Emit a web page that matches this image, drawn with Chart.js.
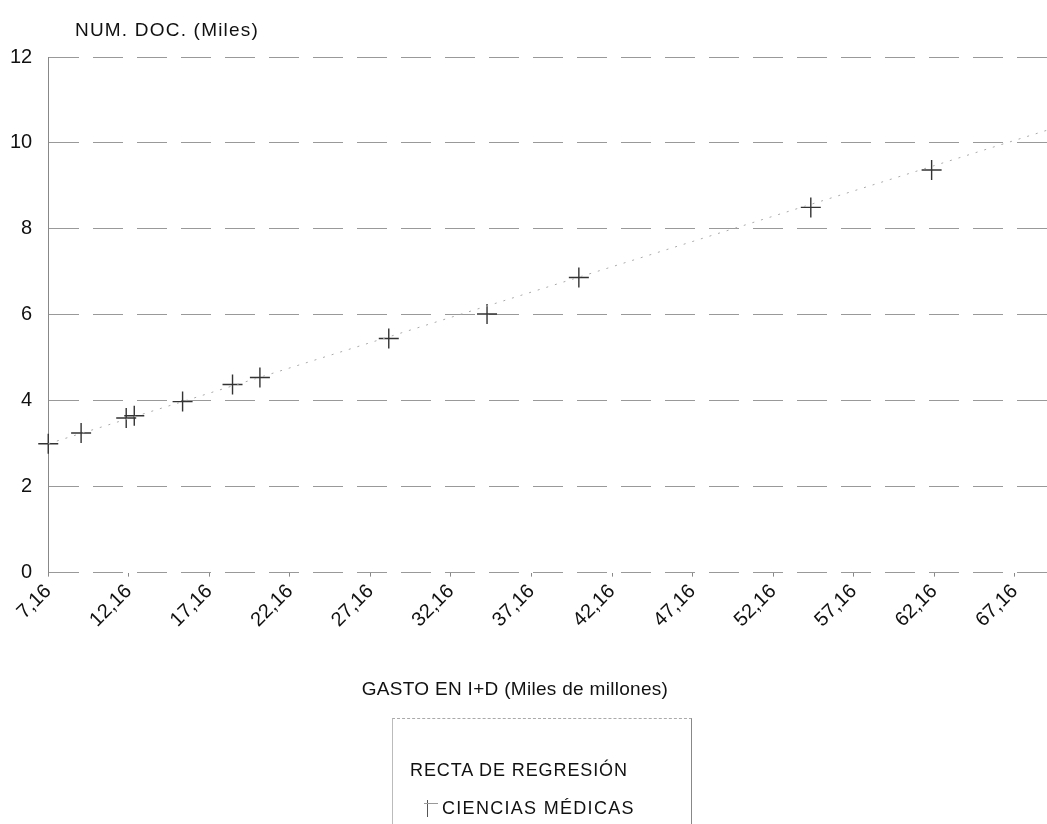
<!DOCTYPE html>
<html>
<head>
<meta charset="utf-8">
<script src="https://cdn.jsdelivr.net/npm/chart.js@4.4.1/dist/chart.umd.min.js"></script>
<style>
  body { margin: 0; background: #fff; font-family: "Liberation Sans", Arial, sans-serif; }
  .wrap { position: relative; width: 1047px; height: 824px; overflow: hidden; }
  #chart { position: absolute; left: -6px; top: 0; }
  .legend {
    position: absolute; left: 392px; top: 718px; width: 298px; height: 106px;
    border-top: 1px dashed #aaa; border-left: 1px solid #bbb; border-right: 1px solid #888;
    color: #111; font-size: 18px; letter-spacing: 0.9px;
  }
  .legend .row1 { position: absolute; left: 17px; top: 41px; }
  .legend .row2 { position: absolute; left: 49px; top: 79px; letter-spacing: 1.3px; }
  .mark { position: absolute; left: -18px; top: 2px; width: 14px; height: 16px; }
  .mark:before { content: ""; position: absolute; left: 3px; top: 0; height: 17px; border-left: 1px solid #555; }
  .mark:after { content: ""; position: absolute; left: 0; top: 3px; width: 14px; border-top: 1px solid #999; }
</style>
</head>
<body>
<div class="wrap">
  <canvas id="chart" width="1065" height="824"></canvas>
  <div class="legend">
    <div class="row1">RECTA DE REGRESIÓN</div>
    <div class="row2"><span class="mark"></span>CIENCIAS MÉDICAS</div>
  </div>
</div>
<script>
// gasto en I+D (miles de millones) vs numero de documentos (miles)
const gastoX = [7.16, 9.2, 12.0, 12.5, 15.5, 18.6, 20.3, 28.3, 34.4, 40.1, 54.5, 62.0];
const docsY  = [3.0, 3.25, 3.6, 3.65, 3.98, 4.38, 4.54, 5.45, 6.02, 6.87, 8.5, 9.37];

// recta de regresion (extremos)
const regX = [7.16, 69.2];
const regY = [3.0, 10.3];

const xTicks = [7.16, 12.16, 17.16, 22.16, 27.16, 32.16, 37.16, 42.16, 47.16, 52.16, 57.16, 62.16, 67.16];
const yTicks = [0, 2, 4, 6, 8, 10, 12];

const ctx = document.getElementById('chart').getContext('2d');

// axis titles drawn by hand (horizontal y title above the axis)
const axisTitles = {
  id: 'axisTitles',
  afterDraw(chart) {
    const c = chart.ctx;
    c.save();
    c.fillStyle = '#111';
    c.font = '19px "Liberation Sans", Arial';
    c.textBaseline = 'middle';
    c.letterSpacing = '1.2px';
    c.textAlign = 'left';
    c.fillText('NUM. DOC. (Miles)', 81, 31);
    c.letterSpacing = '0.3px';
    c.textAlign = 'center';
    c.fillText('GASTO EN I+D (Miles de millones)', 521, 690);
    c.restore();
  }
};

new Chart(ctx, {
  type: 'scatter',
  data: {
    datasets: [
      {
        label: 'RECTA DE REGRESIÓN',
        type: 'line',
        data: regX.map((x, i) => ({ x: x, y: regY[i] })),
        borderColor: '#aaa',
        borderWidth: 1,
        borderDash: [2, 7],
        pointRadius: 0,
        fill: false
      },
      {
        label: 'CIENCIAS MÉDICAS',
        data: gastoX.map((x, i) => ({ x: x, y: docsY[i] })),
        pointStyle: 'cross',
        pointRadius: 10,
        borderColor: '#333',
        borderWidth: 1.4,
        backgroundColor: '#333',
        clip: false
      }
    ]
  },
  options: {
    responsive: false,
    animation: false,
    layout: { padding: { top: 57, left: 0, right: 0, bottom: 189 } },
    plugins: {
      legend: { display: false },
      tooltip: { enabled: false }
    },
    scales: {
      x: {
        type: 'linear',
        min: 7.16,
        max: 69.2,
        afterBuildTicks(axis) { axis.ticks = xTicks.map(v => ({ value: v })); },
        ticks: {
          autoSkip: false,
          minRotation: 45,
          maxRotation: 45,
          color: '#111',
          font: { size: 20, family: '"Liberation Sans", Arial' },
          callback: v => v.toFixed(2).replace('.', ',')
        },
        grid: { display: true, drawOnChartArea: false, tickLength: 4, color: '#888' },
        border: { display: false }
      },
      y: {
        min: 0,
        max: 12,
        afterBuildTicks(axis) { axis.ticks = yTicks.map(v => ({ value: v })); },
        ticks: {
          color: '#111',
          padding: 16,
          font: { size: 20, family: '"Liberation Sans", Arial' }
        },
        grid: {
          color: '#999',
          lineWidth: 1,
          drawTicks: false,
          borderDash: [16, 11, 4, 9]
        },
        border: { display: true, color: '#888', dash: [30, 14] }
      }
    }
  },
  plugins: [axisTitles]
});
</script>
</body>
</html>
